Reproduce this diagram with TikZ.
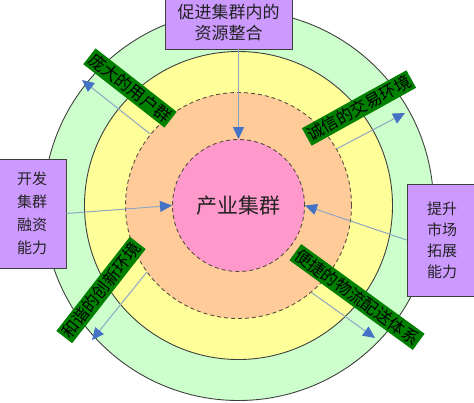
\documentclass[tikz,border=0pt]{standalone}
\usepackage{fontspec}
\setmainfont{Noto Sans CJK SC}
\usetikzlibrary{arrows.meta}
\definecolor{ringgreen}{HTML}{CCFFCC}
\definecolor{ringyellow}{HTML}{FFFF99}
\definecolor{ringpeach}{HTML}{FFCC99}
\definecolor{ringpink}{HTML}{FF99CC}
\definecolor{boxpurple}{HTML}{CC99FF}
\definecolor{lblgreen}{RGB}{0,128,0}
\definecolor{arrline}{HTML}{8EA6C4}
\definecolor{arrtip}{HTML}{4472C4}
\definecolor{edgegray}{HTML}{404040}
\definecolor{txtdark}{HTML}{222222}
\tikzset{
  ring/.style={circle, inner sep=0pt, draw=edgegray, line width=0.9pt},
  dashring/.style={ring, dashed, dash pattern=on 4pt off 3pt, draw=edgegray!80!brown},
  pbox/.style={draw=edgegray, line width=0.8pt, fill=boxpurple, text=txtdark, inner sep=0pt, align=center},
  lbl/.style={fill=lblgreen, text=black, inner xsep=2pt, inner ysep=0pt, minimum height=20pt,
              font=\fontsize{16.5pt}{16.5pt}\selectfont},
  arr/.style={draw=arrline, line width=1pt,
              -{Triangle[length=12pt,width=11pt,color=arrtip,fill=arrtip]}}
}
\begin{document}
\begin{tikzpicture}[x=1pt,y=-1pt]
\useasboundingbox (0,0) rectangle (474,402);
\coordinate (c) at (238.5,205.5);
% rings
\node[ring, fill=ringgreen, minimum size=390pt] (outer) at (c) {};
\node[ring, fill=ringyellow, minimum size=308pt] (yellow) at (c) {};
\node[dashring, fill=ringpeach, minimum size=226pt] (peach) at (c) {};
\node[dashring, fill=ringpink, minimum size=132pt, text=txtdark,
      font=\fontsize{21pt}{21pt}\selectfont] (pink) at (c) {产业集群};
% boxes
\node[pbox, minimum width=127pt, minimum height=52pt,
      font=\fontsize{17pt}{21pt}\selectfont] (topbox) at (228.5,23) {促进集群内的\\资源整合};
\node[pbox, minimum width=68pt, minimum height=109pt,
      font=\fontsize{15pt}{23pt}\selectfont] (leftbox) at (32,213.5) {开发\\集群\\融资\\能力};
\node[pbox, minimum width=70pt, minimum height=112pt,
      font=\fontsize{15pt}{21pt}\selectfont] (rightbox) at (442,240) {提升\\市场\\拓展\\能力};
% radial arrow ends
\coordinate (ulTip) at (82,80);
\coordinate (urTip) at (405,113);
\coordinate (llTip) at (92,340);
\coordinate (lrTip) at (375,338);
% arrows
\draw[arr] (topbox.south -| pink.north) -- (pink.north);
\draw[arr] (leftbox.east) -- (pink.west);
\draw[arr] (rightbox.west) -- (pink.east);
\draw[arr] (peach.141) -- (ulTip);
\draw[arr] (peach.30) -- (urTip);
\draw[arr] (peach.216) -- (llTip);
\draw[arr] (peach.-50) -- (lrTip);
% green labels
\node[lbl, rotate=-38] (l1) at (130,88) {庞大的用户群};
\node[lbl, rotate=29] (l2) at (359,108) {诚信的交易环境};
\node[lbl, rotate=52] (l3) at (101,290) {和谐的创新环境};
\node[lbl, rotate=-36] (l4) at (357,297) {便捷的物流配送体系};
\end{tikzpicture}
\end{document}
